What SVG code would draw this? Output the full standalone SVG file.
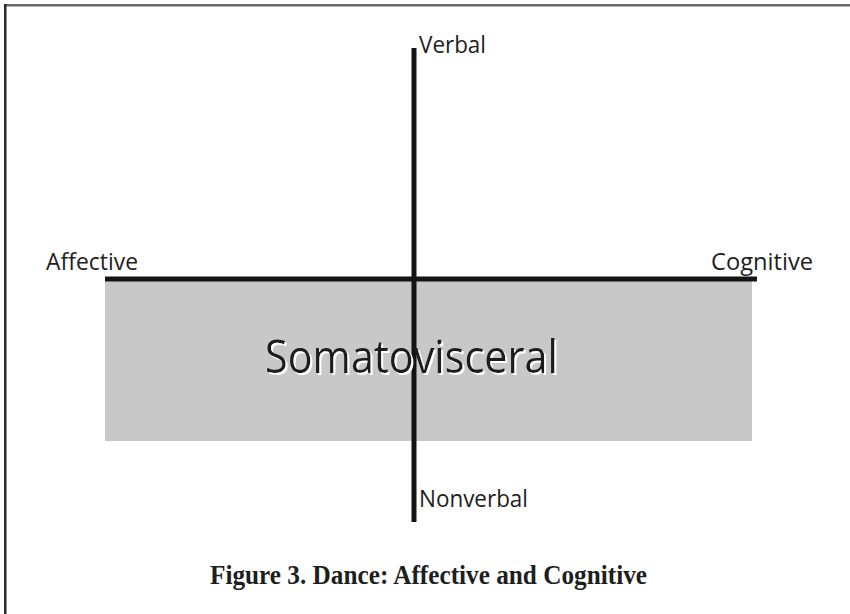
<svg xmlns="http://www.w3.org/2000/svg" width="850" height="614" viewBox="0 0 850 614">
  <defs>
    <!-- soft white offset shadow behind the region title -->
    <filter id="whiteShadow" x="-5%" y="-20%" width="110%" height="140%">
      <feDropShadow dx="2" dy="2" stdDeviation="0.6" flood-color="#ffffff" flood-opacity="1"/>
    </filter>
  </defs>
  <style>
    .axis-label { font-family: "Open Sans", "Noto Sans", "Liberation Sans", sans-serif; fill: #1e1e1e; }
    .axis { stroke: #141414; stroke-width: 5; fill: none; }
    .caption { font-family: "Liberation Serif", "Times New Roman", serif; font-weight: bold; fill: #1e1e1e; }
  </style>
  <rect x="0" y="0" width="850" height="614" fill="#ffffff"/>

  <!-- page frame edges -->
  <g id="frame">
    <rect x="4" y="4" width="846" height="2.5" fill="#6a6a6a"/>
    <rect x="4" y="4" width="2.5" height="610" fill="#2a2a2a"/>
  </g>

  <!-- shaded somatovisceral region -->
  <g id="region">
    <rect x="105" y="281" width="647" height="160" fill="#c8c8c8"/>
  </g>

  <!-- axes -->
  <g id="connectors">
    <line class="axis" x1="105" y1="279" x2="757" y2="279"/>
    <line class="axis" x1="414" y1="48" x2="414" y2="522"/>
  </g>

  <g id="somatovisceral">
    <text class="axis-label" x="265" y="373" font-size="46" filter="url(#whiteShadow)" textLength="293" lengthAdjust="spacingAndGlyphs">Somatovisceral</text>
  </g>

  <g id="verbal">
    <text class="axis-label" x="419" y="53" font-size="23" textLength="67" lengthAdjust="spacingAndGlyphs">Verbal</text>
  </g>

  <g id="nonverbal">
    <text class="axis-label" x="419" y="507" font-size="23" textLength="109" lengthAdjust="spacingAndGlyphs">Nonverbal</text>
  </g>

  <g id="affective">
    <text class="axis-label" x="46" y="270" font-size="23" textLength="92" lengthAdjust="spacingAndGlyphs">Affective</text>
  </g>

  <g id="cognitive">
    <text class="axis-label" x="711" y="270" font-size="23" textLength="102" lengthAdjust="spacingAndGlyphs">Cognitive</text>
  </g>

  <g id="caption">
    <text class="caption" x="210" y="584" font-size="28" textLength="437" lengthAdjust="spacingAndGlyphs">Figure 3. Dance: Affective and Cognitive</text>
  </g>
</svg>
